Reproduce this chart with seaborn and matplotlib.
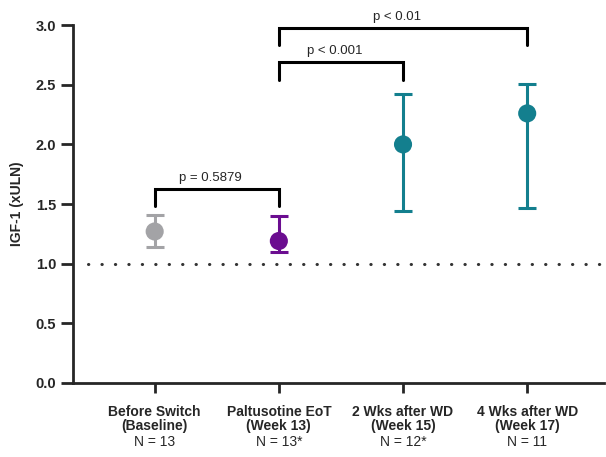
import numpy as np
import pandas as pd
import seaborn as sns
import matplotlib.pyplot as plt

# data
groups = ["Before Switch\n(Baseline)", "Paltusotine EoT\n(Week 13)",
          "2 Wks after WD\n(Week 15)", "4 Wks after WD\n(Week 17)"]
n_labels = ["N = 13", "N = 13*", "N = 12*", "N = 11"]
means = [1.27, 1.19, 2.00, 2.26]
err_low = [1.14, 1.10, 1.44, 1.47]
err_high = [1.41, 1.40, 2.42, 2.51]
colors = ["#a3a3a6", "#6b0d90", "#137f8e", "#137f8e"]

# comparisons: (group a, group b, bar height, label)
brackets = [(0, 1, 1.63, "p = 0.5879"),
            (1, 2, 2.69, "p < 0.001"),
            (1, 3, 2.98, "p < 0.01")]

df = pd.DataFrame({"group": groups, "mean": means, "lo": err_low, "hi": err_high})

sns.set_style("ticks")
plt.rcParams["font.family"] = ["Liberation Sans", "DejaVu Sans"]

fig = plt.figure(figsize=(6.06, 4.57), dpi=100)
ax = fig.add_axes([0.12, 0.162, 0.877, 0.783])

x = np.arange(len(groups))
for i in x:
    ax.errorbar(i, df["mean"][i],
                yerr=[[df["mean"][i] - df["lo"][i]], [df["hi"][i] - df["mean"][i]]],
                fmt="none", ecolor=colors[i], elinewidth=2.2, capsize=6.5, capthick=2.2,
                zorder=2)
sns.scatterplot(x=x, y=df["mean"], hue=df["group"], palette=colors, s=170,
                edgecolor="none", legend=False, zorder=3, ax=ax)

# reference line at 1.0 ULN
ax.plot([-0.54, 3.62], [1.0, 1.0], color="#333333", lw=2.2,
        linestyle=(0, (0.1, 4.3)), dash_capstyle="round", zorder=1)

# significance brackets
leg = 0.15
for a, b, h, txt in brackets:
    ax.plot([a, a, b, b], [h - leg, h, h, h - leg], color="black", lw=2.2,
            solid_joinstyle="miter", clip_on=False)
    ax.text((a + b) / 2 - 0.05, h + 0.04, txt, ha="center", va="bottom",
            fontsize=9.5, clip_on=False)

ax.set_xlim(-0.66, 3.62)
ax.set_ylim(0, 3.0)
ax.set_yticks(np.arange(0, 3.01, 0.5))
ax.set_yticklabels([f"{v:.1f}" for v in np.arange(0, 3.01, 0.5)],
                   fontsize=10.5, fontweight="bold")
ax.set_xticks(x)
ax.set_xticklabels(groups, fontsize=10, fontweight="bold", linespacing=1.0)
for i, n in enumerate(n_labels):
    ax.text(i, -0.145, n, transform=ax.get_xaxis_transform(), ha="center",
            va="top", fontsize=10)
ax.set_ylabel("IGF-1 (xULN)", fontsize=10, fontweight="bold", labelpad=8)

ax.tick_params(axis="y", length=9, width=2, pad=3)
ax.tick_params(axis="x", length=7, width=2, pad=9)
for s in ["top", "right"]:
    ax.spines[s].set_visible(False)
for s in ["left", "bottom"]:
    ax.spines[s].set_linewidth(2)

fig.savefig("out.png", dpi=100)
